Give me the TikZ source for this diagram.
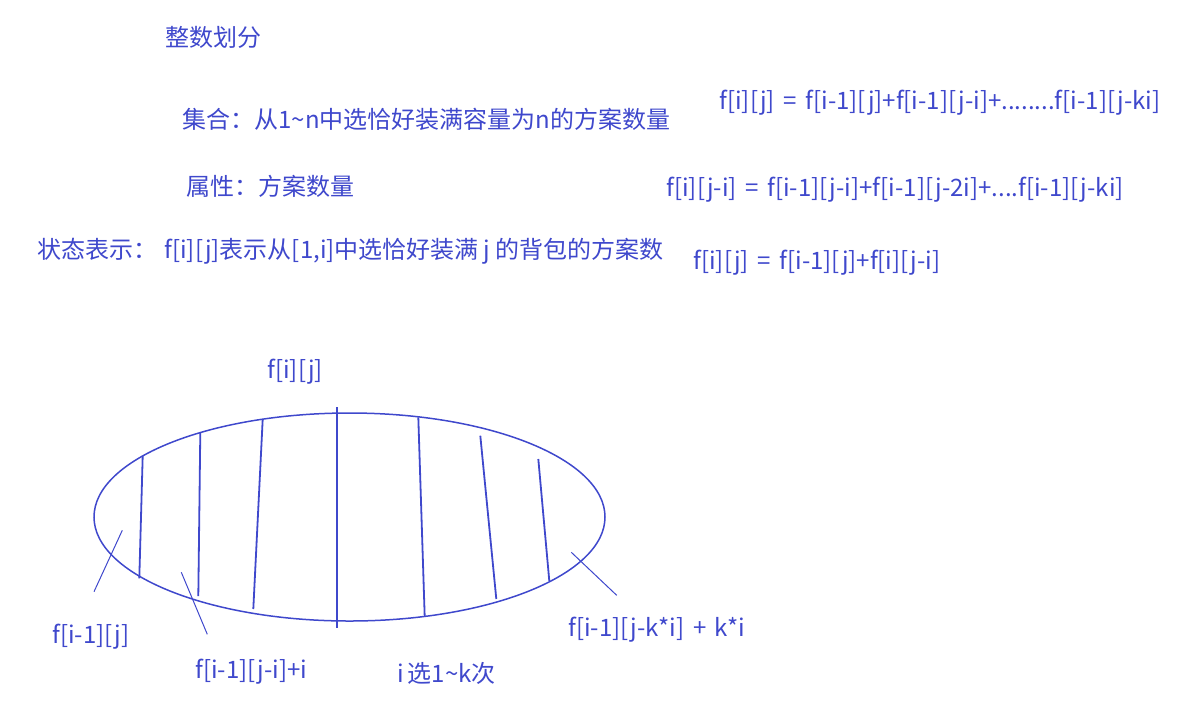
\documentclass[tikz,border=0pt]{standalone}
\usepackage{fontspec}
\newfontfamily\cjk[WordSpace=1.6]{Noto Sans CJK SC}
\usetikzlibrary{shapes.geometric}
\definecolor{pen}{RGB}{63,72,204}

\begin{document}
\begin{tikzpicture}[x=0.5pt,y=-0.5pt,
  txt/.style={text=pen,font=\cjk\fontsize{12}{14}\selectfont,inner sep=0pt,anchor=base west},
  cut/.style={pen,line width=0.9pt},
  hint/.style={pen,line width=0.5pt}]
  \useasboundingbox (0,0) rectangle (1177,713);

  % Definitions
  \node[txt] (title) at (165,46) {整数划分};
  \node[txt] (set)   at (182,128) {集合：从1{\textasciitilde}n中选恰好装满容量为n的方案数量};
  \node[txt] (attr)  at (186,195) {属性：方案数量};
  \node[txt] (state) at (37,258) {状态表示：\hspace{3.5pt}f[i][j]表示从[1,i]中选恰好装满\hspace{2.5pt}j\hspace{2.5pt}的背包的方案数};

  % Recurrences
  \node[txt] (eq1) at (719,109) {f[i][j] = f[i-1][j]+f[i-1][j-i]+........f[i-1][j-ki]};
  \node[txt] (eq2) at (666,196) {f[i][j-i] = f[i-1][j-i]+f[i-1][j-2i]+....f[i-1][j-ki]};
  \node[txt] (eq3) at (693,269) {f[i][j] = f[i-1][j]+f[i][j-i]};

  % Partition of the set
  \node[draw=pen,line width=0.75pt,ellipse,inner sep=0pt,
        minimum width=255.5pt,minimum height=104pt] (part) at (349.5,517) {};
  \node[txt] (top) at (267,378) {f[i][j]};
  \draw[cut] (337,407) -- (337,628);
  \draw[cut] (142.7,456) -- (139.3,578.3);
  \draw[cut] (200.3,432.7) -- (198.3,596);
  \draw[cut] (262.7,419.3) -- (253.3,609);
  \draw[cut] (418.3,417.3) -- (424.7,616.7);
  \draw[cut] (480.3,435.7) -- (496.3,599);
  \draw[cut] (538.3,459) -- (549.3,581);

  % Labels of the parts
  \node[txt] (p0) at (52,643) {f[i-1][j]};
  \node[txt] (p1) at (195,678) {f[i-1][j-i]+i};
  \node[txt] (pk) at (568,636) {f[i-1][j-k*i] + k*i};
  \node[txt] (times) at (397,682) {i\hspace{2pt}选1{\textasciitilde}k次};

  \coordinate (a0) at (122.3,530.3);
  \coordinate (a1) at (181.3,572.3);
  \coordinate (ak) at (571.3,552.3);
  \coordinate (b0) at (94,591.7);
  \coordinate (b1) at (207.3,634.3);
  \coordinate (bk) at (616.7,595.3);
  \draw[hint] (a0) -- (b0);
  \draw[hint] (a1) -- (b1);
  \draw[hint] (ak) -- (bk);
\end{tikzpicture}
\end{document}
